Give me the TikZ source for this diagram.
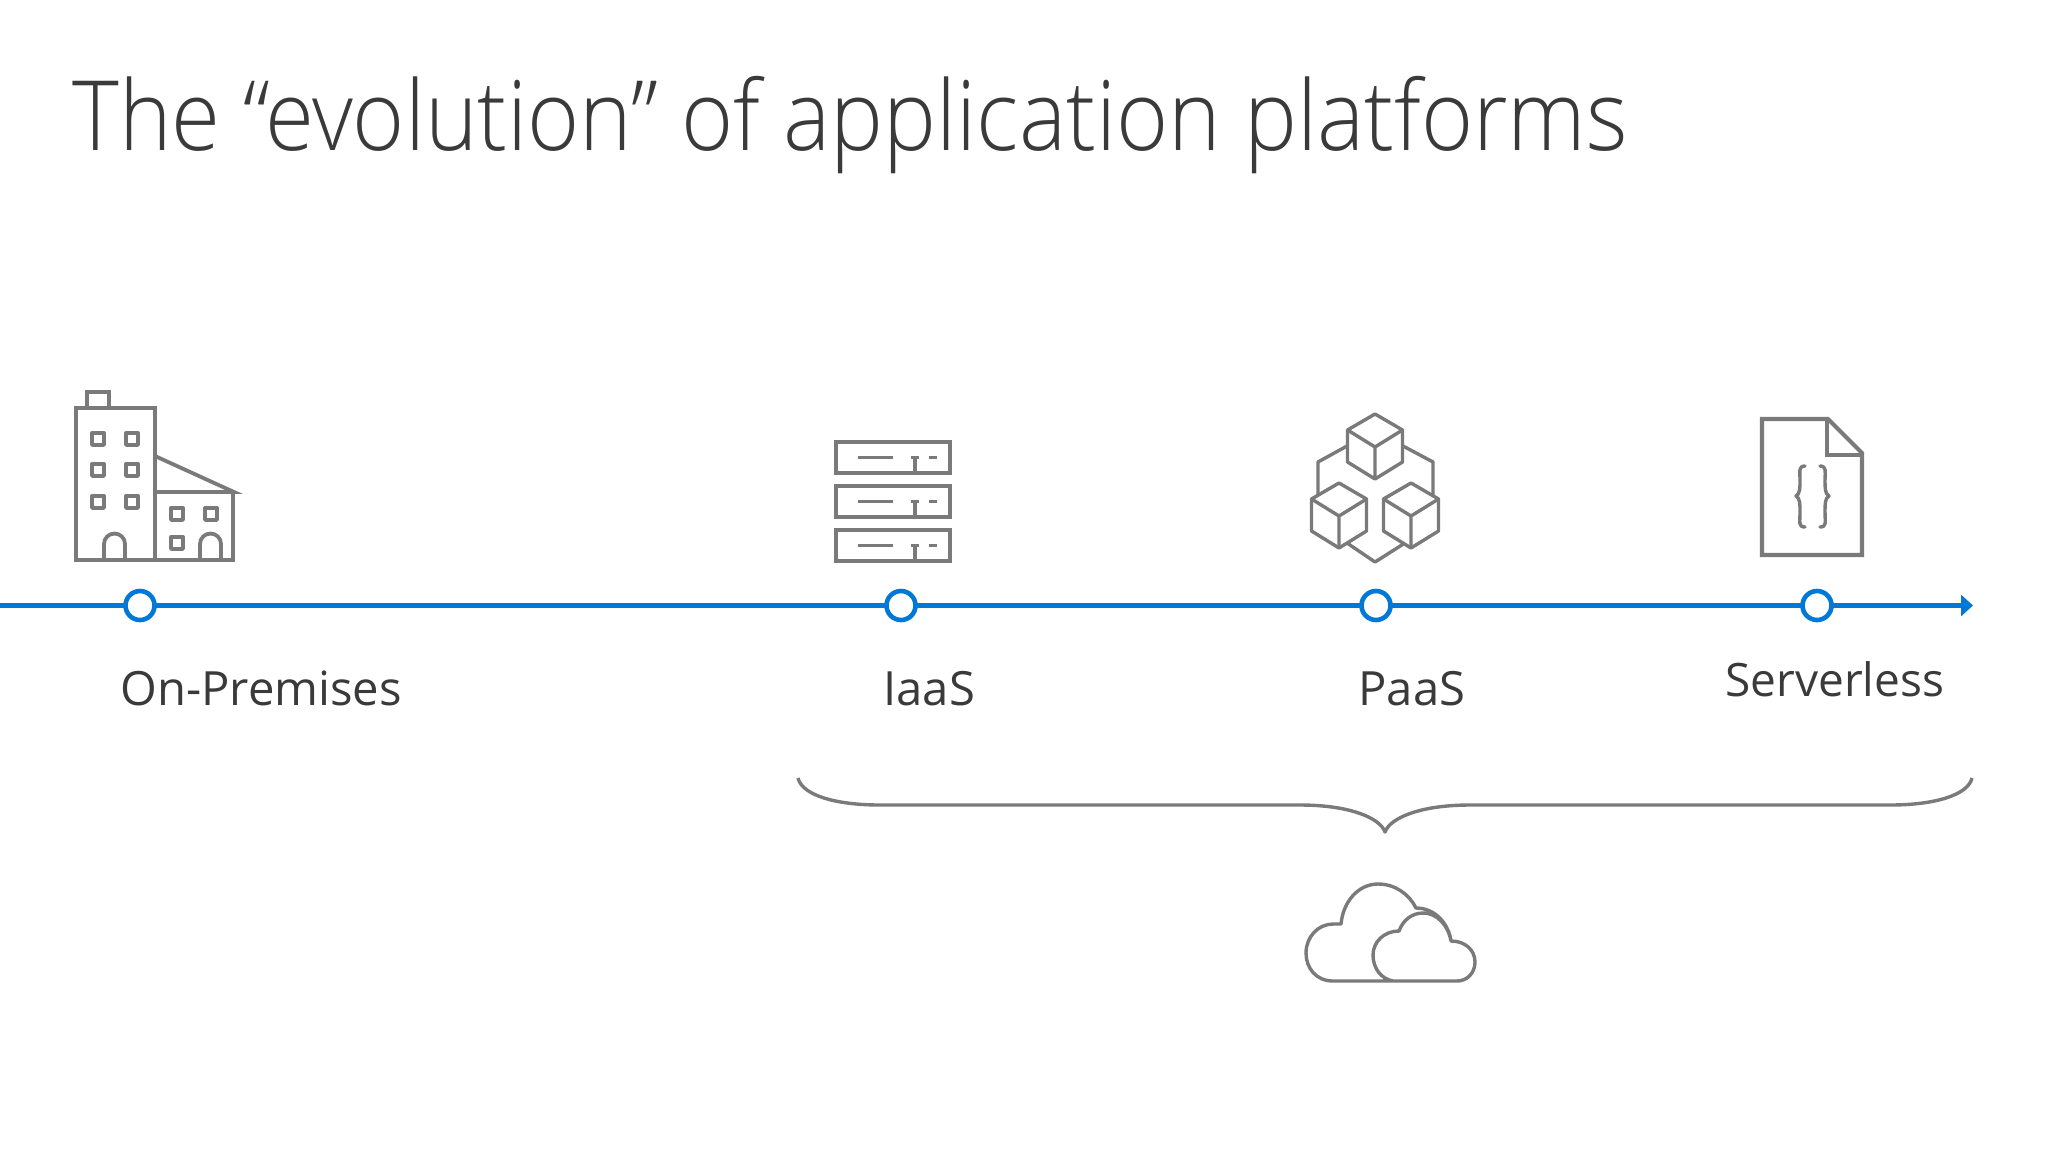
\documentclass[tikz,border=0pt]{standalone}
\usepackage{fontspec}
\setmainfont{Open Sans}
\newfontfamily\lightfont[FakeStretch=0.918]{Open Sans Light}
\usetikzlibrary{arrows.meta}
\definecolor{icongrey}{HTML}{7A7A7A}
\definecolor{lineblue}{HTML}{0078D7}
\definecolor{inktext}{HTML}{3A3A3A}
\tikzset{
  icon/.style={draw=icongrey,line width=1.9pt,line join=miter},
  thinicon/.style={draw=icongrey,line width=1.7pt,line join=round},
  milestone/.style={circle,draw=lineblue,line width=2.3pt,fill=white,minimum size=14.5pt,inner sep=0pt},
  tl/.style={anchor=base west,inner sep=0pt,text=inktext,font=\fontsize{23.6}{28}\selectfont},
}
\newcommand{\winbox}[2]{\draw[thinicon] (#1-6,#2-6) rectangle (#1+6,#2+6);}
\newcommand{\cube}[2]{%
 \draw[thinicon] (#1,#2) -- (#1-27.5,#2+16) -- (#1-27.5,#2+48) -- (#1,#2+65) -- (#1+27.5,#2+48) -- (#1+27.5,#2+16) -- cycle;
 \draw[thinicon] (#1-27.5,#2+16) -- (#1,#2+33) -- (#1+27.5,#2+16) (#1,#2+33) -- (#1,#2+65);}
\newcommand{\serverrow}[1]{%
 \draw[icon] (836,#1) rectangle (950,#1+31);
 \draw[icon] (858,#1+15.5) -- (893,#1+15.5) (911,#1+15.5) -- (919,#1+15.5) (929,#1+15.5) -- (937,#1+15.5);
 \draw[icon] (915,#1+15.5) -- (915,#1+31);}
\begin{document}
\begin{tikzpicture}[x=0.5pt,y=-0.5pt]
\useasboundingbox (0,0) rectangle (2048,1152);
\fill[white] (0,0) rectangle (2048,1152);
% title
\node[anchor=base west,inner sep=0pt,text=inktext,font=\lightfont\fontsize{48.5}{56}\selectfont] (title) at (72,150) {The “evolution” of application platforms};
% axis
\coordinate (axstart) at (0,605.5);
\coordinate (axend) at (1973,605.5);
\draw[lineblue,line width=2.1pt,-{Triangle[length=6pt,width=10.5pt]}] (axstart) -- (axend);
\node[milestone] (m1) at (140,605.5) {};
\node[milestone] (m2) at (901,605.5) {};
\node[milestone] (m3) at (1376,605.5) {};
\node[milestone] (m4) at (1817,605.5) {};
% labels
\node[tl] (l1) at (120,705) {On-Premises};
\node[tl] (l2) at (883,705) {IaaS};
\node[tl] (l3) at (1358,705) {PaaS};
\node[tl,font=\fontsize{23}{28}\selectfont] (l4) at (1725,696) {Serverless};
% building
\draw[icon] (76,408) rectangle (155,560);
\draw[icon] (87,408) -- (87,392) -- (109,392) -- (109,408);
\foreach \yy in {439,470,502}{\winbox{98}{\yy}\winbox{132}{\yy}}
\draw[icon] (104,560) -- (104,544) arc (180:360:10.5) -- (125,560);
\draw[icon] (155,492) -- (234,492) -- (155,456);
\draw[icon] (233,492) -- (233,560) -- (155,560);
\winbox{177}{514}\winbox{211}{514}\winbox{177}{543}
\draw[icon] (200,560) -- (200,544) arc (180:360:10.5) -- (221,560);
% servers
\serverrow{442}\serverrow{486}\serverrow{530}
% cubes
\cube{1375}{414}\cube{1339}{483}\cube{1411}{483}
\draw[thinicon] (1347,446) -- (1318,462) -- (1318,496);
\draw[thinicon] (1403,446) -- (1433,462) -- (1433,497);
\draw[thinicon] (1347,543) -- (1375,562) -- (1405,543);
% document
\draw[icon,line width=2.1pt] (1762,419) -- (1828,419) -- (1862,453) -- (1862,555) -- (1762,555) -- cycle;
\draw[icon,line width=2.1pt] (1827,419) -- (1827,455) -- (1862,455);
\draw[thinicon,line cap=round] (1805,466) .. controls (1798,466) and (1800,472) .. (1800,480) .. controls (1800,488) and (1800,494) .. (1796,496) .. controls (1800,498) and (1800,504) .. (1800,512) .. controls (1800,522) and (1798,527) .. (1805,527);
\draw[thinicon,line cap=round] (1820,466) .. controls (1827,466) and (1825,472) .. (1825,480) .. controls (1825,488) and (1825,494) .. (1829,496) .. controls (1825,498) and (1825,504) .. (1825,512) .. controls (1825,522) and (1827,527) .. (1820,527);
% big brace
\draw[thinicon] (798,778) .. controls (802,795) and (835,805) .. (880,805) -- (1300,805) .. controls (1350,805) and (1380,818) .. (1385,832) .. controls (1390,818) and (1420,805) .. (1470,805) -- (1890,805) .. controls (1935,805) and (1968,795) .. (1972,778);
% cloud
\draw[thinicon] (1393,981) -- (1333,981) .. controls (1316,981) and (1306,968) .. (1306,953) .. controls (1306,937) and (1318,924) .. (1333,924) -- (1341,924) .. controls (1343,902) and (1358,884) .. (1378,884) .. controls (1395,884) and (1409,894) .. (1416,908) .. controls (1436,908) and (1449,925) .. (1451,941) .. controls (1465,941) and (1475,950) .. (1475,962) .. controls (1475,973) and (1467,981) .. (1457,981) -- (1393,981) .. controls (1381,979) and (1373,968) .. (1373,955) .. controls (1373,942) and (1384,931) .. (1399,931) .. controls (1403,920) and (1412,913) .. (1423,913) .. controls (1437,913) and (1448,925) .. (1451,941);
\end{tikzpicture}
\end{document}
